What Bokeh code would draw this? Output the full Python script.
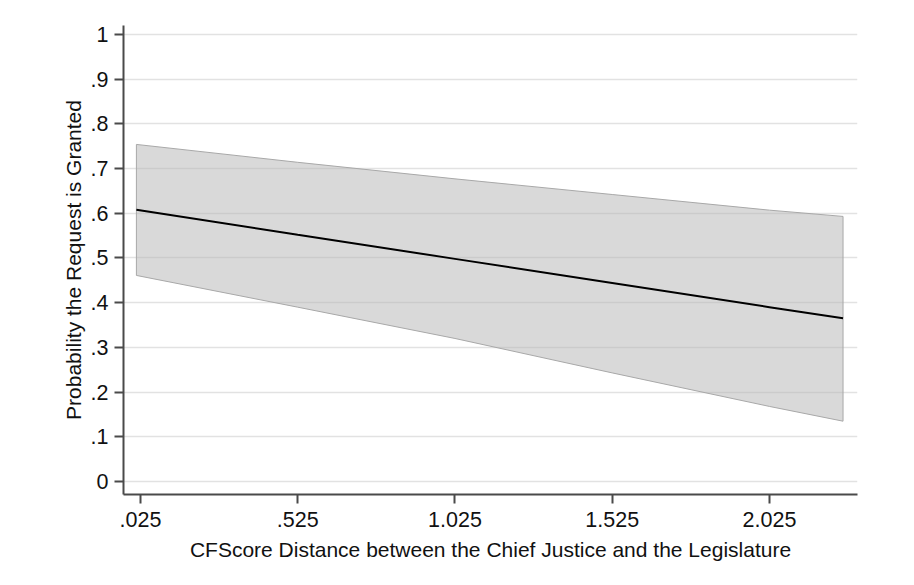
from bokeh.plotting import figure
from bokeh.models import FixedTicker, Range1d, BoxAnnotation
from bokeh.embed import file_html
from bokeh.resources import INLINE

# Data
distance = [0.012, 0.525, 1.025, 1.525, 2.025, 2.259]
prob = [0.608, 0.552, 0.498, 0.444, 0.390, 0.365]
upper = [0.754, 0.714, 0.677, 0.642, 0.607, 0.593]
lower = [0.461, 0.390, 0.320, 0.243, 0.168, 0.135]

x_ticks = [0.025, 0.525, 1.025, 1.525, 2.025]
x_tick_labels = [".025", ".525", "1.025", "1.525", "2.025"]
y_ticks = [0, 0.1, 0.2, 0.3, 0.4, 0.5, 0.6, 0.7, 0.8, 0.9, 1]
y_tick_labels = ["0", ".1", ".2", ".3", ".4", ".5", ".6", ".7", ".8", ".9", "1"]

FONT = "Liberation Sans"

p = figure(width=906, height=577, output_backend="svg", toolbar_location=None,
           x_range=Range1d(-0.029, 2.305), y_range=Range1d(-0.029, 1.020),
           min_border_left=123, min_border_right=49, min_border_top=25, min_border_bottom=83)
p.outline_line_color = None
p.background_fill_color = "white"
p.border_fill_color = "white"

# frame lines of the original figure (top and left edges)
for l, r, t, b in ((3, 5, 1, 577), (3, 906, 1, 3)):
    p.add_layout(BoxAnnotation(left=l, right=r, top=t, bottom=b,
                               left_units="canvas", right_units="canvas",
                               top_units="canvas", bottom_units="canvas",
                               fill_color="black", fill_alpha=1.0, line_color=None,
                               level="overlay"))

# confidence band
band_x = distance + distance[::-1]
band_y = upper + lower[::-1]
p.patch(band_x, band_y, fill_color="#b4b4b4", fill_alpha=0.5,
        line_color="#a8a8a8", line_width=1)
p.line(distance, prob, line_color="black", line_width=2)

# axes
for ax in (p.xaxis[0], p.yaxis[0]):
    ax.axis_line_color = "#4a4a4a"
    ax.axis_line_width = 2
    ax.major_tick_line_color = "#4a4a4a"
    ax.major_tick_line_width = 2
    ax.major_tick_out = 9
    ax.major_tick_in = 0
    ax.minor_tick_line_color = None
    ax.major_label_text_font = FONT
    ax.major_label_text_font_size = "21.5px"
    ax.major_label_text_color = "#111111"
    ax.axis_label_text_font = FONT
    ax.axis_label_text_font_size = "21px"
    ax.axis_label_text_font_style = "normal"
    ax.axis_label_text_color = "#111111"

p.xaxis.ticker = FixedTicker(ticks=x_ticks)
p.xaxis.major_label_overrides = dict(zip(x_ticks, x_tick_labels))
p.yaxis.ticker = FixedTicker(ticks=y_ticks)
p.yaxis.major_label_overrides = dict(zip(y_ticks, y_tick_labels))
p.yaxis.major_label_orientation = "horizontal"
p.xaxis.major_label_standoff = 8
p.yaxis.major_label_standoff = 6
p.xaxis.axis_label_standoff = 8
p.yaxis.axis_label_standoff = 3
p.xaxis.axis_label = "CFScore Distance between the Chief Justice and the Legislature"
p.yaxis.axis_label = "Probability the Request is Granted"

p.xgrid.grid_line_color = None
p.ygrid.ticker = FixedTicker(ticks=y_ticks)
p.ygrid.grid_line_color = "#e2e2e2"
p.ygrid.grid_line_width = 1.5

open("out.html", "w").write(file_html(p, INLINE))
